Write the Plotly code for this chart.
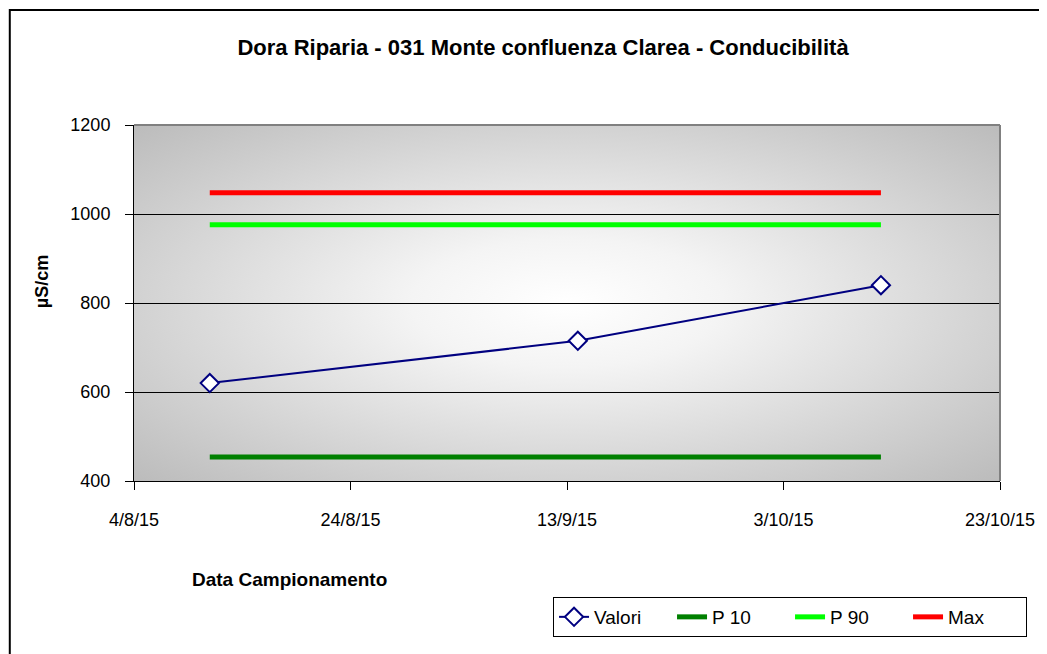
import base64
import plotly.graph_objects as go

# ---- data ----
dates = ["2015-08-11", "2015-09-14", "2015-10-12"]
valori = [620, 715, 840]
p10 = [454, 454, 454]
p90 = [976, 976, 976]
vmax = [1048, 1048, 1048]

title = "Dora Riparia - 031 Monte confluenza Clarea - Conducibilità"
x_title = "Data Campionamento"
y_title = "µS/cm"
x_range = ["2015-08-04", "2015-10-23"]
y_range = [400, 1200]

FONT = "Liberation Sans, Arial, sans-serif"

# page body adds an 8px margin; plot area in reference pixels: x 134..1002, y 125..481
OFF = 8
W, H = 1047 - OFF, 654 - OFF
PL, PR, PT, PB = 134, 1002, 125, 481


def px(X):
    return (X - PL) / (PR - PL)


def py(Y):
    return (PB - Y) / (PB - PT)


fig = go.Figure()
fig.add_trace(go.Scatter(x=dates, y=valori, name="Valori", mode="lines+markers",
                         line=dict(color="#000080", width=2),
                         marker=dict(symbol="diamond", size=14, color="white",
                                     line=dict(color="#000080", width=2))))
fig.add_trace(go.Scatter(x=dates, y=p10, name="P 10", mode="lines",
                         line=dict(color="#008000", width=5)))
fig.add_trace(go.Scatter(x=dates, y=p90, name="P 90", mode="lines",
                         line=dict(color="#00ff00", width=5)))
fig.add_trace(go.Scatter(x=dates, y=vmax, name="Max", mode="lines",
                         line=dict(color="#ff0000", width=5)))

svg = ("<svg xmlns='http://www.w3.org/2000/svg' width='868' height='356' "
       "viewBox='0 0 100 100' preserveAspectRatio='none'><defs>"
       "<radialGradient id='g' cx='0.5' cy='0.5' r='0.72'>"
       "<stop offset='0' stop-color='#ffffff'/>"
       "<stop offset='0.25' stop-color='#f4f4f4'/>"
       "<stop offset='1' stop-color='#bababa'/></radialGradient></defs>"
       "<rect width='100' height='100' fill='url(#g)'/></svg>")
uri = "data:image/svg+xml;base64," + base64.b64encode(svg.encode()).decode()

fig.update_layout(
    width=W, height=H,
    margin=dict(l=PL - OFF, r=W - (PR - OFF), t=PT - OFF, b=H - (PB - OFF)),
    paper_bgcolor="white", plot_bgcolor="#c0c0c0",
    font=dict(family=FONT, size=18, color="black"),
    title=dict(text="<b>" + title + "</b>", x=px(544), xref="paper",
               xanchor="center", y=1 - (47 - OFF) / H, yanchor="middle",
               font=dict(family=FONT, size=22, color="black")),
    images=[dict(source=uri, xref="x domain", yref="y domain", x=0, y=1,
                 sizex=1, sizey=1, sizing="stretch", xanchor="left",
                 yanchor="top", layer="below")],
    xaxis=dict(type="date", range=x_range, tick0="2015-08-04",
               dtick=20 * 86400000, tickformat="%-d/%-m/%y",
               showgrid=False, showline=True, linecolor="black", linewidth=1,
               ticks="outside", ticklen=8, tickcolor="black",
               ticklabelstandoff=14,
               tickfont=dict(size=18), zeroline=False),
    yaxis=dict(range=y_range, dtick=200, showgrid=True, gridcolor="black",
               gridwidth=1, showline=True, linecolor="black", linewidth=1,
               ticks="outside", ticklen=8, tickcolor="black",
               ticklabelstandoff=11,
               tickfont=dict(size=18), zeroline=False),
    showlegend=True,
    legend=dict(orientation="h", x=px(554), xanchor="left",
                y=py(597), yanchor="top",
                bordercolor="black", borderwidth=1, bgcolor="white",
                font=dict(family=FONT, size=19), entrywidth=73,
                entrywidthmode="pixels", itemwidth=30),
    annotations=[
        dict(text="<b>" + x_title + "</b>", xref="paper", yref="paper",
             x=px(290), y=py(579), showarrow=False,
             xanchor="center", yanchor="middle",
             font=dict(family=FONT, size=19)),
        dict(text="<b>" + y_title + "</b>", xref="paper", yref="paper",
             x=px(42), y=py(282), showarrow=False,
             textangle=-90, xanchor="center", yanchor="middle",
             font=dict(family=FONT, size=18)),
    ],
    shapes=[
        dict(type="line", xref="x domain", yref="y domain", x0=0, x1=1, y0=1, y1=1,
             line=dict(color="#808080", width=2)),
        dict(type="line", xref="x domain", yref="y domain", x0=1, x1=1, y0=0, y1=1,
             line=dict(color="#808080", width=2)),
        dict(type="rect", xref="paper", yref="paper",
             x0=px(9.5), x1=px(1070), y0=py(680), y1=py(10),
             line=dict(color="black", width=2), fillcolor="rgba(0,0,0,0)"),
    ],
)

fig.write_html("out.html")
